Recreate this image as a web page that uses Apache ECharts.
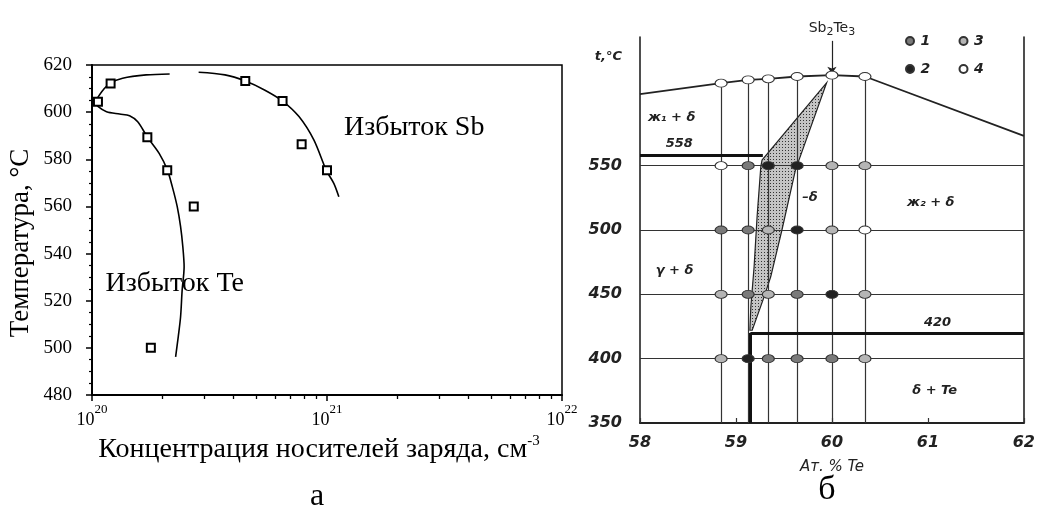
<!DOCTYPE html>
<html>
<head>
<meta charset="utf-8">
<script src="https://cdn.jsdelivr.net/npm/echarts@6/dist/echarts.min.js"></script>
<style>
  html, body { margin: 0; padding: 0; background: #fff; }
  #wrap { position: relative; width: 1038px; height: 506px; }
  #left { position: absolute; left: 0; top: 0; width: 1038px; height: 506px; }
  #right { position: absolute; left: 560px; top: 0; width: 478px; height: 506px; filter: blur(0.45px); }
</style>
</head>
<body>
<div id="wrap"><div id="left"></div><div id="right"></div></div>
<script>
// ---------- (а) temperature vs carrier concentration ----------
const concMajorTicks = [1e20, 1e21, 1e22];
const concMinorTicks = [2e20, 3e20, 4e20, 5e20, 6e20, 7e20, 8e20, 9e20,
                        2e21, 3e21, 4e21, 5e21, 6e21, 7e21, 8e21, 9e21];
const tempTicksA = [480, 500, 520, 540, 560, 580, 600, 620];

// measured samples: [concentration, cm^-3 ; temperature, °C]
const measuredPoints = [
  [1.06e20, 604.4], [1.2e20, 612.2], [1.72e20, 589.3], [2.09e20, 575.3],
  [2.71e20, 560.0], [1.78e20, 500.0],
  [4.49e20, 613.2], [6.47e20, 604.7], [7.8e20, 586.4], [1.0e21, 575.3]
];

// solidus branch on the Te-rich side
const teExcessCurve = [
  [2.14e20, 616.2], [1.70e20, 615.8], [1.35e20, 614.4], [1.19e20, 612.2],
  [1.10e20, 608.7], [1.046e20, 605.4], [1.03e20, 604.4], [1.063e20, 602.3],
  [1.153e20, 600.2], [1.311e20, 599.2], [1.445e20, 598.5], [1.565e20, 595.9],
  [1.724e20, 589.3], [1.931e20, 582.5], [2.092e20, 575.5], [2.196e20, 568.4],
  [2.305e20, 559.9], [2.382e20, 551.4], [2.435e20, 542.9], [2.466e20, 534.4],
  [2.419e20, 524.5], [2.382e20, 513.2], [2.328e20, 504.7], [2.269e20, 496.2]
];

// solidus branch on the Sb-rich side
const sbExcessCurve = [
  [2.843e20, 616.9], [3.681e20, 615.8], [4.494e20, 613.2], [5.42e20, 609.4],
  [6.47e20, 604.7], [7.60e20, 598.1], [8.79e20, 588.2], [9.93e20, 575.3],
  [1.069e21, 569.8], [1.123e21, 564.1]
];

const excessLabels = [
  { name: 'Избыток Sb', value: [2.35e21, 593.3] },
  { name: 'Избыток Te', value: [2.25e20, 527.1] }
];

// ---------- (б) Sb–Te phase diagram near Sb2Te3 ----------
const teAxisTicks = [58, 59, 60, 61, 62];
const tempTicksB = [350, 400, 450, 500, 550];
const liquidus = [
  [58, 605.6], [58.845, 614.1], [59.127, 616.7], [59.337, 617.5],
  [59.637, 619.3], [60, 620.3], [60.344, 619.3], [62, 573.1]
];
const sectionCompositions = [58.845, 59.127, 59.337, 59.637, 60, 60.344];
const sectionTops = [614.1, 616.7, 617.5, 619.3, 620.3, 619.3];
const annealTemps = [400, 450, 500, 550];
const eutecticSbSide = 558;
const eutecticTeSide = 420;
const deltaBoundaryX = 59.15;
const deltaRegion = [
  [59.944, 614.3], [59.272, 554.4], [59.259, 549.2], [59.220, 510.3],
  [59.189, 471.4], [59.155, 440.3], [59.145, 422.1], [59.169, 422.1],
  [59.293, 448.0], [59.362, 463.6], [59.479, 500.0], [59.620, 546.7]
];
const compoundX = 60;

const markerType1 = [[59.127, 550], [58.845, 500], [59.127, 500], [59.127, 450],
                     [59.637, 450], [59.337, 400], [59.637, 400], [60, 400]];
const markerType2 = [[59.337, 550], [59.637, 550], [59.637, 500], [60, 450], [59.127, 400]];
const markerType3 = [[60, 550], [60.344, 550], [59.337, 500], [60, 500], [58.845, 450],
                     [59.337, 450], [60.344, 450], [58.845, 400], [60.344, 400]];
const markerType4 = [[58.845, 614.1], [59.127, 616.7], [59.337, 617.5], [59.637, 619.3],
                     [60, 620.3], [60.344, 619.3], [58.845, 550], [60.344, 500]];

const phaseLabels = [
  { name: 'ж₁ + δ', value: [58.33, 587.0] },
  { name: '558', value: [58.41, 567.0] },
  { name: 'ж₂ + δ', value: [61.03, 521.6] },
  { name: '–δ', value: [59.77, 524.8] },
  { name: 'γ + δ', value: [58.36, 468.8] },
  { name: '420', value: [61.10, 428.3] },
  { name: 'δ + Te', value: [61.07, 375.4] }
];

const SERIF = 'Liberation Serif';
const HAND = 'DejaVu Sans';

// ---------- chart (а) ----------
const chartA = echarts.init(document.getElementById('left'), null, { renderer: 'canvas' });
const expLabel = v => '{b|10}{s|' + Math.round(Math.log10(v)) + '}';

chartA.setOption({
  animation: false,
  backgroundColor: '#fff',
  grid: { left: 92, top: 65, right: 476, bottom: 111, show: true,
          borderColor: '#000', borderWidth: 1.5, backgroundColor: 'transparent' },
  xAxis: [
    {
      type: 'log', logBase: 10, min: concMajorTicks[0], max: concMajorTicks[2],
      position: 'bottom',
      axisLine: { show: true, lineStyle: { color: '#000', width: 2 } },
      axisTick: { show: true, inside: false, length: 6, customValues: concMajorTicks,
                  lineStyle: { color: '#000', width: 1.5 } },
      axisLabel: {
        show: true, customValues: concMajorTicks, formatter: expLabel, margin: 8,
        rich: {
          b: { fontFamily: SERIF, fontSize: 18, color: '#000', lineHeight: 26, verticalAlign: 'bottom' },
          s: { fontFamily: SERIF, fontSize: 13, color: '#000', verticalAlign: 'top' }
        }
      },
      splitLine: { show: false },
      name: '{a|Концентрация носителей заряда, см}{s|-3}',
      nameLocation: 'middle', nameGap: 24,
      nameTextStyle: {
        padding: [0, 16, 0, 0],
        rich: {
          a: { fontFamily: SERIF, fontSize: 28, color: '#000', lineHeight: 30, verticalAlign: 'bottom' },
          s: { fontFamily: SERIF, fontSize: 15, color: '#000', verticalAlign: 'top' }
        }
      }
    },
    {
      type: 'log', logBase: 10, min: concMajorTicks[0], max: concMajorTicks[2],
      position: 'bottom',
      axisLine: { show: false },
      axisTick: { show: true, inside: false, length: 4, customValues: concMinorTicks,
                  lineStyle: { color: '#000', width: 1.3 } },
      axisLabel: { show: false },
      splitLine: { show: false }
    }
  ],
  yAxis: {
    type: 'value', min: tempTicksA[0], max: tempTicksA[tempTicksA.length - 1], interval: 20,
    axisLine: { show: true, lineStyle: { color: '#000', width: 2 } },
    axisTick: { show: true, inside: false, length: 6, lineStyle: { color: '#000', width: 1.5 } },
    minorTick: { show: true, splitNumber: 4, length: 3, lineStyle: { color: '#000', width: 1.2 } },
    axisLabel: { fontFamily: SERIF, fontSize: 19, color: '#000', margin: 20 },
    splitLine: { show: false },
    minorSplitLine: { show: false },
    name: 'Температура, °C', nameLocation: 'middle', nameGap: 58, nameRotate: 90,
    nameTextStyle: { fontFamily: SERIF, fontSize: 27, color: '#000', padding: [0, 26, 0, 0] }
  },
  series: [
    { name: 'teExcess', type: 'line', data: teExcessCurve, smooth: 0.3, symbol: 'none',
      lineStyle: { color: '#000', width: 1.6 }, z: 2 },
    { name: 'sbExcess', type: 'line', data: sbExcessCurve, smooth: 0.3, symbol: 'none',
      lineStyle: { color: '#000', width: 1.6 }, z: 2 },
    { name: 'measured', type: 'scatter', data: measuredPoints, symbol: 'rect', symbolSize: 8,
      itemStyle: { color: '#fff', borderColor: '#000', borderWidth: 2, opacity: 1 }, z: 3 },
    { name: 'excessLabels', type: 'scatter', data: excessLabels, symbolSize: 0,
      itemStyle: { opacity: 1 },
      label: { show: true, position: 'inside', formatter: p => p.name,
               fontFamily: SERIF, fontSize: 28, color: '#000' }, z: 4 }
  ],
  graphic: [
    { type: 'text', x: 317, y: 497, style: { text: 'а', font: '32px "Liberation Serif"', fill: '#000',
      textAlign: 'center', textVerticalAlign: 'middle' } },
    { type: 'text', x: 827, y: 490, style: { text: 'б', font: '34px "Liberation Serif"', fill: '#000',
      textAlign: 'center', textVerticalAlign: 'middle' } }
  ]
});

// ---------- chart (б) ----------
const dots = document.createElement('canvas');
dots.width = 3; dots.height = 3;
{
  const g = dots.getContext('2d');
  g.fillStyle = '#c4c4c4'; g.fillRect(0, 0, 3, 3);
  g.fillStyle = '#333'; g.fillRect(0, 0, 1, 1);
}
const dotPattern = { image: dots, repeat: 'repeat' };

const thin = { color: '#333', width: 1.2, type: 'solid' };
const thick = { color: '#111', width: 3, type: 'solid' };

const gridLines = annealTemps.map(t => ({ yAxis: t, lineStyle: thin }));
const sectionLines = sectionCompositions.map((x, i) => [
  { coord: [x, tempTicksB[0]], lineStyle: thin }, { coord: [x, sectionTops[i]] }
]);
const eutecticLines = [
  [{ coord: [teAxisTicks[0], eutecticSbSide], lineStyle: thick }, { coord: [59.28, eutecticSbSide] }],
  [{ coord: [deltaBoundaryX, eutecticTeSide], lineStyle: thick }, { coord: [teAxisTicks[4], eutecticTeSide] }],
  [{ coord: [deltaBoundaryX, tempTicksB[0]], lineStyle: thick }, { coord: [deltaBoundaryX, eutecticTeSide] }]
];

const hand = { fontFamily: HAND, fontStyle: 'italic', fontWeight: 'bold', color: '#222' };
const markerStyle = (fill) => ({ color: fill, borderColor: '#333', borderWidth: 1, opacity: 1 });

const chartB = echarts.init(document.getElementById('right'), null, { renderer: 'canvas' });
chartB.setOption({
  animation: false,
  backgroundColor: 'transparent',
  grid: { left: 80, right: 11, top: 37, bottom: 83 },
  legend: {
    data: ['1', '3', '2', '4'], left: 340, top: 26, width: 110,
    itemWidth: 11, itemHeight: 8, itemGap: 8, icon: 'circle',
    textStyle: Object.assign({}, hand, { fontSize: 14, width: 30, lineHeight: 20 })
  },
  xAxis: {
    type: 'value', min: teAxisTicks[0], max: teAxisTicks[4], interval: 1,
    axisLine: { show: true, lineStyle: { color: '#222', width: 2 } },
    axisTick: { show: true, inside: true, length: 5, lineStyle: { color: '#333', width: 1.2 } },
    axisLabel: Object.assign({}, hand, { fontSize: 16, margin: 12 }),
    splitLine: { show: false },
    name: 'Ат. % Te', nameLocation: 'middle', nameGap: 37,
    nameTextStyle: Object.assign({}, hand, { fontSize: 15, fontWeight: 'normal' })
  },
  yAxis: [
    {
      type: 'value', min: 350, max: 650, interval: 50, position: 'left',
      axisLine: { show: true, lineStyle: { color: '#222', width: 1.6 } },
      axisTick: { show: false },
      axisLabel: Object.assign({}, hand, { fontSize: 16, margin: 18,
        formatter: v => (tempTicksB.indexOf(v) >= 0 ? String(v) : '') }),
      splitLine: { show: false },
      name: 't,°C', nameLocation: 'end', nameGap: -20,
      nameTextStyle: Object.assign({}, hand, { fontSize: 13, align: 'right',
        verticalAlign: 'middle', padding: [0, 18, 0, 0] })
    },
    {
      type: 'value', min: 350, max: 650, interval: 50, position: 'right',
      axisLine: { show: true, lineStyle: { color: '#222', width: 1.6 } },
      axisTick: { show: false }, axisLabel: { show: false }, splitLine: { show: false }
    }
  ],
  series: [
    {
      name: 'δ', type: 'custom', data: [[59.5, 500]], z: 3,
      renderItem: (params, api) => ({
        type: 'polygon',
        shape: { points: deltaRegion.map(p => api.coord(p)) },
        style: { fill: dotPattern, stroke: '#222', lineWidth: 1.2 }
      })
    },
    {
      name: 'liquidus', type: 'line', data: liquidus, symbol: 'none', z: 2,
      lineStyle: { color: '#222', width: 1.8 },
      markLine: {
        silent: true, symbol: ['none', 'none'], label: { show: false },
        data: gridLines.concat(sectionLines, eutecticLines)
      }
    },
    {
      name: 'compound', type: 'line', data: [[compoundX, 647], [compoundX, 621.5]],
      symbol: 'none', lineStyle: { width: 0, opacity: 0 }, z: 2,
      markLine: {
        silent: true, symbol: ['none', 'arrow'], symbolSize: 7,
        lineStyle: { color: '#222', width: 1.2, type: 'solid' },
        label: {
          show: true, position: 'start', distance: 3,
          formatter: '{n|Sb}{s|2}{n|Te}{s|3}',
          rich: {
            n: { fontFamily: HAND, fontSize: 14, color: '#222', lineHeight: 17, verticalAlign: 'top' },
            s: { fontFamily: HAND, fontSize: 11, color: '#222', verticalAlign: 'bottom' }
          }
        },
        data: [[{ coord: [compoundX, 647] }, { coord: [compoundX, 621.5] }]]
      }
    },
    { name: '1', type: 'scatter', data: markerType1, symbol: 'circle', symbolSize: [12, 8],
      itemStyle: markerStyle('#7a7a7a'), z: 5 },
    { name: '2', type: 'scatter', data: markerType2, symbol: 'circle', symbolSize: [12, 8],
      itemStyle: markerStyle('#222'), z: 5 },
    { name: '3', type: 'scatter', data: markerType3, symbol: 'circle', symbolSize: [12, 8],
      itemStyle: markerStyle('#b5b5b5'), z: 5 },
    { name: '4', type: 'scatter', data: markerType4, symbol: 'circle', symbolSize: [12, 8],
      itemStyle: markerStyle('#fff'), z: 5 },
    { name: 'phaseLabels', type: 'scatter', data: phaseLabels, symbolSize: 0, z: 6,
      itemStyle: { opacity: 1 },
      label: Object.assign({ show: true, position: 'inside', formatter: p => p.name, fontSize: 13 }, hand) }
  ]
});
</script>
</body>
</html>
